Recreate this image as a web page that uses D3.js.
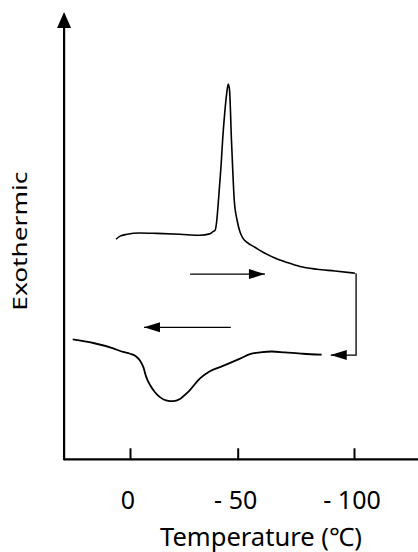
<!DOCTYPE html>
<html>
<head>
<meta charset="utf-8">
<script src="https://cdn.jsdelivr.net/npm/d3@7"></script>
<style>
  body { margin: 0; background: #fff; }
  text { font-family: "Noto Sans", "Noto Sans CJK JP", sans-serif; fill: #000; }
</style>
</head>
<body>
<div id="chart"></div>
<script>
// DSC trace: [temperature (C), heat flow (arb.)]
const heatingCurve = [
  [6.5, 49.2], [4.6, 49.9], [1.4, 50.3], [-4.6, 50.6], [-12.5, 50.5], [-23.2, 50.3],
  [-32.5, 50.1], [-37.0, 50.4], [-38.5, 50.9], [-39.5, 51.2], [-40.2, 53.0], [-40.9, 56.8],
  [-41.6, 61.3], [-42.3, 65.8], [-43.0, 71.4], [-43.9, 77.0], [-44.8, 81.4], [-45.6, 83.9],
  [-46.2, 82.6], [-47.1, 71.4], [-47.7, 64.7], [-48.4, 57.9], [-49.7, 53.5], [-51.0, 50.8],
  [-52.3, 49.4], [-54.0, 48.5], [-57.4, 47.4], [-60.9, 46.3], [-66.0, 45.0], [-71.2, 44.0],
  [-76.8, 43.1], [-84.1, 42.5], [-91.8, 42.1], [-100.4, 41.6]
];

const coolingCurve = [
  [26.6, 26.8], [17.0, 26.0], [7.8, 24.8], [3.2, 24.0], [0, 23.6], [-2.8, 23.0],
  [-4.6, 22.1], [-6.2, 20.6], [-7.4, 18.6], [-9.3, 16.6], [-11.6, 15.0], [-13.9, 13.9],
  [-16.7, 13.2], [-20.1, 13.0], [-23.2, 13.5], [-26.9, 15.0], [-32.5, 18.1], [-37.1, 19.7],
  [-41.8, 20.6], [-51.0, 22.5], [-55.3, 23.5], [-59.6, 23.9], [-64.7, 24.1], [-70.3, 23.9],
  [-78.1, 23.6], [-86.1, 23.4]
];

// arrows (tail -> tip)
const heatArrow = [[-27.9, 41.4], [-61.7, 41.4]];
const coolArrow = [[-46.8, 29.5], [-6.5, 29.5]];
const switchArrow = [[-100.9, 41.6], [-100.9, 23.3], [-90.0, 23.3]];

const tickValues = [0, -50, -100];
const tickLabels = ["0", "- 50", "- 100"];
const xExtent = [30.6, -127.5];
const yExtent = [0, 100];

const width = 418, height = 552;

const svg = d3.select("#chart").append("svg")
    .attr("width", width)
    .attr("height", height);

const x = d3.scaleLinear().domain([0, -50, -100]).range([130, 237.7, 354]);
const y = d3.scaleLinear().domain(yExtent).range([459.3, 12]);

function arrowHead(tip, from, len, half) {
    let dx = tip[0] - from[0], dy = tip[1] - from[1];
    let d = Math.sqrt(dx * dx + dy * dy);
    let ux = dx / d, uy = dy / d;
    let bx = tip[0] - ux * len, by = tip[1] - uy * len;
    return `M${tip[0]},${tip[1]}L${bx - uy * half},${by + ux * half}L${bx + uy * half},${by - ux * half}Z`;
}

// axes
let x0 = x(xExtent[0]);
svg.append("line")
    .attr("x1", x0).attr("x2", x(xExtent[1]))
    .attr("y1", y(0)).attr("y2", y(0))
    .attr("stroke", "#000").attr("stroke-width", 2.2);

svg.append("line")
    .attr("x1", x0).attr("x2", x0)
    .attr("y1", y(0) + 1).attr("y2", y(yExtent[1]) + 14)
    .attr("stroke", "#000").attr("stroke-width", 2.2);

svg.append("path")
    .attr("d", arrowHead([x0, y(yExtent[1])], [x0, y(0)], 16, 7))
    .attr("fill", "#000");

let xAxis = svg.append("g")
    .attr("transform", `translate(0,${y(0)})`)
    .call(d3.axisBottom(x)
        .tickValues(tickValues)
        .tickSizeInner(-11)
        .tickSizeOuter(0)
        .tickFormat((d, i) => tickLabels[i]));

xAxis.select(".domain").remove();
xAxis.selectAll(".tick line").attr("stroke", "#000").attr("stroke-width", 2);
xAxis.selectAll(".tick text")
    .attr("y", 49.7)
    .attr("dy", null)
    .attr("dx", -2.5)
    .attr("fill", "#000")
    .style("font-family", '"Noto Sans", sans-serif')
    .style("font-size", "25px");

svg.append("text")
    .attr("x", 261)
    .attr("y", 545.5)
    .attr("text-anchor", "middle")
    .attr("textLength", 202)
    .attr("lengthAdjust", "spacingAndGlyphs")
    .style("font-size", "25.5px")
    .text("Temperature (℃)");

svg.append("text")
    .attr("transform", "translate(27,241.2) rotate(-90)")
    .attr("text-anchor", "middle")
    .attr("textLength", 139)
    .attr("lengthAdjust", "spacingAndGlyphs")
    .style("font-size", "20px")
    .text("Exothermic");

// curves
const line = d3.line()
    .x(d => x(d[0]))
    .y(d => y(d[1]))
    .curve(d3.curveMonotoneX);

svg.append("path")
    .datum(heatingCurve)
    .attr("d", line)
    .attr("fill", "none")
    .attr("stroke", "#000")
    .attr("stroke-width", 1.6);

svg.append("path")
    .datum(coolingCurve)
    .attr("d", line)
    .attr("fill", "none")
    .attr("stroke", "#000")
    .attr("stroke-width", 1.8);

// direction arrows
const straight = d3.line().x(d => x(d[0])).y(d => y(d[1]));

[heatArrow, coolArrow, switchArrow].forEach(a => {
    let pts = a.map(d => [x(d[0]), y(d[1])]);
    let tip = pts[pts.length - 1], prev = pts[pts.length - 2];
    svg.append("path")
        .datum(a)
        .attr("d", straight)
        .attr("fill", "none")
        .attr("stroke", "#000")
        .attr("stroke-width", 1.3);
    svg.append("path")
        .attr("d", arrowHead(tip, prev, 16, 5))
        .attr("fill", "#000");
});
</script>
</body>
</html>
